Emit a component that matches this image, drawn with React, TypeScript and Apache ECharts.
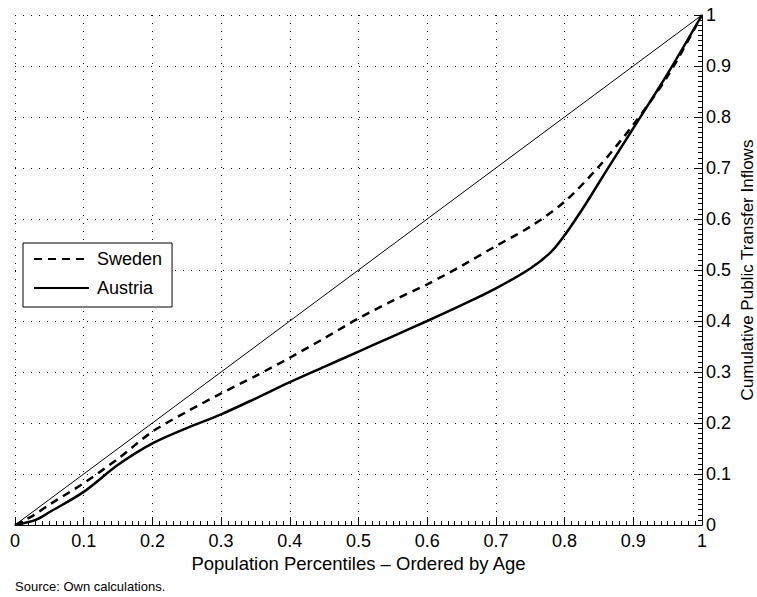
import React, { useEffect, useRef } from "react";
import * as echarts from "echarts";

const seriesNames = ["Sweden", "Austria"];

const swedenX = [0, 0.027, 0.05, 0.1, 0.15, 0.2, 0.25, 0.3, 0.35, 0.4, 0.45, 0.5, 0.55, 0.6, 0.65, 0.7, 0.75, 0.8, 0.85, 0.9, 0.95, 1];
const swedenY = [0, 0.019, 0.04, 0.082, 0.13, 0.183, 0.222, 0.258, 0.292, 0.328, 0.366, 0.405, 0.44, 0.472, 0.508, 0.547, 0.585, 0.634, 0.703, 0.785, 0.88, 1];

const austriaX = [0, 0.03, 0.05, 0.1, 0.15, 0.2, 0.25, 0.3, 0.35, 0.4, 0.45, 0.5, 0.55, 0.6, 0.65, 0.7, 0.75, 0.78, 0.8, 0.83, 0.86, 0.9, 0.95, 1];
const austriaY = [0, 0.01, 0.025, 0.065, 0.118, 0.16, 0.19, 0.217, 0.248, 0.28, 0.31, 0.34, 0.37, 0.4, 0.431, 0.464, 0.503, 0.535, 0.568, 0.628, 0.693, 0.778, 0.885, 1];

const equalityX = [0, 1];
const equalityY = [0, 1];

const xAxisTitle = "Population Percentiles – Ordered by Age";
const yAxisTitle = "Cumulative Public Transfer Inflows";
const sourceNote = "Source: Own calculations.";

const FONT = "'Liberation Sans', Arial, Helvetica, sans-serif";

function pairs(xs: number[], ys: number[]) {
  return xs.map((x, i) => [x, ys[i]]);
}

export default function App() {
  const ref = useRef<HTMLDivElement>(null);
  useEffect(() => {
    if (!ref.current) return;
    const chart = echarts.init(ref.current, undefined, { renderer: "svg" });
    const gridLine = { show: true, lineStyle: { color: "#000", width: 1, type: [1, 7] as any } };
    const fmt = (v: number) => String(Math.round(v * 10) / 10);
    chart.setOption({
      animation: false,
      backgroundColor: "#fff",
      textStyle: { fontFamily: FONT },
      grid: { left: 15, right: 55, top: 15, bottom: 72, containLabel: false, outerBoundsMode: "none" },
      legend: {
        data: seriesNames,
        orient: "vertical",
        left: 23,
        top: 243,
        padding: [7, 10, 10, 10],
        itemWidth: 55,
        itemHeight: 14,
        itemGap: 11,
        backgroundColor: "#fff",
        borderColor: "#000",
        borderWidth: 1,
        borderRadius: 0,
        itemStyle: { opacity: 0 },
        textStyle: { fontFamily: FONT, fontSize: 18, color: "#000", padding: [0, 0, 0, 3] },
      },
      xAxis: {
        type: "value",
        min: 0,
        max: 1,
        interval: 0.1,
        name: xAxisTitle,
        nameLocation: "middle",
        nameGap: 29,
        nameMoveOverlap: false,
        nameTextStyle: { fontFamily: FONT, fontSize: 18.5, lineHeight: 18, color: "#000", verticalAlign: "top" },
        axisLine: { show: true, onZero: false, lineStyle: { color: "#000", width: 1 } },
        axisTick: { show: true, inside: true, length: 8, lineStyle: { color: "#000" } },
        minorTick: { show: true, splitNumber: 10, length: 4, lineStyle: { color: "#000" } },
        axisLabel: { fontFamily: FONT, fontSize: 18, lineHeight: 16, color: "#000", margin: 8, formatter: fmt },
        splitLine: gridLine,
      },
      yAxis: {
        type: "value",
        position: "right",
        min: 0,
        max: 1,
        interval: 0.1,
        name: yAxisTitle,
        nameLocation: "middle",
        nameGap: 37,
        nameMoveOverlap: false,
        nameTextStyle: { fontFamily: FONT, fontSize: 17, lineHeight: 17, color: "#000" },
        axisLine: { show: true, onZero: false, lineStyle: { color: "#000", width: 1 } },
        axisTick: { show: true, inside: true, length: 8, lineStyle: { color: "#000" } },
        minorTick: { show: true, splitNumber: 10, length: 4, lineStyle: { color: "#000" } },
        axisLabel: { fontFamily: FONT, fontSize: 18, color: "#000", margin: 4, formatter: fmt },
        splitLine: gridLine,
      },
      graphic: [
        {
          type: "text",
          left: 15,
          top: 580,
          style: { text: sourceNote, fontFamily: FONT, fontSize: 13, fill: "#000" },
        },
      ],
      series: [
        {
          name: "Equality",
          type: "line",
          data: pairs(equalityX, equalityY),
          symbol: "none",
          lineStyle: { color: "#000", width: 1 },
          silent: true,
          z: 2,
        },
        {
          name: "Sweden",
          type: "line",
          data: pairs(swedenX, swedenY),
          symbol: "none",
          smooth: 0.3,
          lineStyle: { color: "#000", width: 2.5, type: [8, 6] as any },
          itemStyle: { color: "#000" },
          z: 3,
        },
        {
          name: "Austria",
          type: "line",
          data: pairs(austriaX, austriaY),
          symbol: "none",
          smooth: 0.3,
          lineStyle: { color: "#000", width: 2.5 },
          itemStyle: { color: "#000" },
          z: 3,
        },
      ],
    });
    return () => chart.dispose();
  }, []);
  return <div ref={ref} style={{ width: 757, height: 597, position: "absolute", left: 0, top: 0 }} />;
}
